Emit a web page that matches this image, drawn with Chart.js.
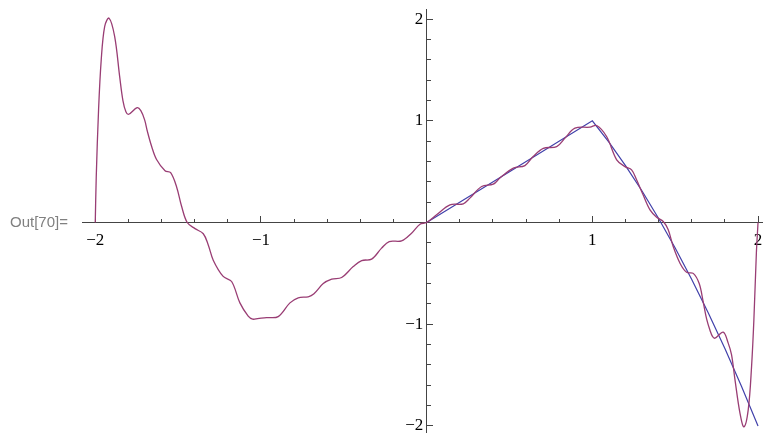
<!DOCTYPE html>
<html>
<head>
<meta charset="utf-8">
<script src="https://cdn.jsdelivr.net/npm/chart.js@4.4.1/dist/chart.umd.min.js"></script>
<style>
    html, body { margin: 0; padding: 0; background: #fff; }
    #wrap { position: relative; width: 763px; height: 434px; }
    #outLabel { position: absolute; left: 10px; top: 213px; font: 15px Arial, "Liberation Sans", sans-serif; color: #808080; }
</style>
</head>
<body>
<div id="wrap">
    <canvas id="plot" width="763" height="434"></canvas>
    <div id="outLabel">Out[70]=</div>
</div>
<script>
// Fourier partial sum (purple)
var seriesX = [-2.000, -1.994, -1.980, -1.964, -1.943, -1.917, -1.883, -1.853, -1.833, -1.815,
    -1.798, -1.747, -1.725, -1.702, -1.686, -1.660, -1.630, -1.579, -1.545, -1.509,
    -1.479, -1.445, -1.398, -1.348, -1.318, -1.288, -1.228, -1.177, -1.127, -1.077,
    -1.050, -1.020, -0.966, -0.896, -0.825, -0.775, -0.715, -0.680, -0.624, -0.573,
    -0.513, -0.443, -0.392, -0.332, -0.272, -0.226, -0.151, -0.091, -0.040, 0.000,
    0.060, 0.141, 0.221, 0.261, 0.332, 0.402, 0.442, 0.523, 0.593, 0.643,
    0.704, 0.785, 0.835, 0.895, 0.986, 1.026, 1.086, 1.147, 1.197, 1.237,
    1.267, 1.307, 1.348, 1.388, 1.428, 1.458, 1.488, 1.529, 1.569, 1.609,
    1.645, 1.669, 1.690, 1.710, 1.725, 1.740, 1.790, 1.820, 1.840, 1.861,
    1.891, 1.915, 1.941, 1.961, 1.975, 1.990, 2.000];
var seriesY = [0.00, 0.45, 1.11, 1.60, 1.93, 2.01, 1.83, 1.44, 1.20, 1.09,
    1.065, 1.13, 1.10, 1.01, 0.90, 0.75, 0.62, 0.51, 0.49, 0.35,
    0.16, 0.00, -0.06, -0.11, -0.22, -0.37, -0.53, -0.58, -0.79, -0.92,
    -0.95, -0.945, -0.935, -0.925, -0.79, -0.74, -0.73, -0.70, -0.60, -0.557,
    -0.54, -0.433, -0.374, -0.36, -0.252, -0.187, -0.18, -0.105, -0.016, 0.00,
    0.076, 0.174, 0.184, 0.24, 0.354, 0.377, 0.437, 0.535, 0.56, 0.649,
    0.73, 0.747, 0.83, 0.928, 0.938, 0.954, 0.846, 0.617, 0.55, 0.518,
    0.42, 0.27, 0.125, 0.053, 0.01, -0.072, -0.236, -0.40, -0.49, -0.50,
    -0.60, -0.78, -0.95, -1.06, -1.12, -1.137, -1.078, -1.186, -1.30, -1.547,
    -1.874, -2.01, -1.84, -1.416, -0.957, -0.30, 0.00];

// the function itself (blue), only drawn on [0, 2]
var exactX = [0, 0.5, 1, 1.1, 1.2, 1.3, 1.4, 1.5, 1.6, 1.7, 1.8, 1.9, 2];
var exactY = [0, 0.5, 1, 0.79, 0.56, 0.31, 0.04, -0.25, -0.56, -0.89, -1.24, -1.61, -2];

var xTickValues = [-2, -1, 0, 1, 2];
var xTickLabels = ['\u22122', '\u22121', '', '1', '2'];
var yTickValues = [-2, -1, 0, 1, 2];
var yTickLabels = ['\u22122', '\u22121', '', '1', '2'];

var xMin = -2.08, xMax = 2.03;
var yMin = -2.06, yMax = 2.1;

function toPoints(xs, ys) {
    return xs.map(function (x, i) { return { x: x, y: ys[i] }; });
}

var axisColor = '#444';
var labelFont = { family: '"Liberation Serif", "Times New Roman", serif', size: 17 };

// axes cross at the origin and take no room in the layout
function noHeight(scale) {
    scale.height = 0;
    scale.paddingLeft = scale.paddingRight = scale.paddingTop = scale.paddingBottom = 0;
}
function noWidth(scale) {
    scale.width = 0;
    scale.paddingLeft = scale.paddingRight = scale.paddingTop = scale.paddingBottom = 0;
}

function fixedTicks(values) {
    return function (scale) {
        scale.ticks = values.map(function (v) { return { value: v }; });
    };
}

var ctx = document.getElementById('plot').getContext('2d');
var chart = new Chart(ctx, {
    type: 'line',
    data: {
        datasets: [
            {
                label: 'partial sum',
                data: toPoints(seriesX, seriesY),
                borderColor: '#993d74',
                borderWidth: 1.3,
                pointRadius: 0,
                tension: 0.35,
                fill: false
            },
            {
                label: 'f(x)',
                data: toPoints(exactX, exactY),
                borderColor: '#4040aa',
                borderWidth: 1.2,
                pointRadius: 0,
                tension: 0,
                fill: false
            }
        ]
    },
    options: {
        responsive: false,
        animation: false,
        layout: { autoPadding: false, padding: { left: 82, right: 0, top: 9, bottom: 2 } },
        plugins: { legend: { display: false }, tooltip: { enabled: false } },
        scales: {
            x: {
                type: 'linear', min: xMin, max: xMax,
                position: { y: 0 },
                afterFit: noHeight,
                afterBuildTicks: fixedTicks(xTickValues),
                border: { display: true, color: axisColor, width: 1 },
                grid: { drawOnChartArea: false, drawTicks: true, tickLength: -7, color: axisColor, tickWidth: 1 },
                ticks: {
                    autoSkip: false, maxRotation: 0, padding: 15, color: '#000', font: labelFont,
                    callback: function (v) { return xTickLabels[xTickValues.indexOf(v)]; }
                }
            },
            xMinor: {
                type: 'linear', axis: 'x', min: xMin, max: xMax,
                position: { y: 0 },
                afterFit: noHeight,
                border: { display: false },
                grid: { drawOnChartArea: false, drawTicks: true, tickLength: -4, color: axisColor, tickWidth: 1 },
                ticks: { display: false, stepSize: 0.2, autoSkip: false, includeBounds: false }
            },
            y: {
                type: 'linear', min: yMin, max: yMax,
                position: { x: 0 },
                afterFit: noWidth,
                afterBuildTicks: fixedTicks(yTickValues),
                border: { display: true, color: axisColor, width: 1 },
                grid: { drawOnChartArea: false, drawTicks: true, tickLength: -7, color: axisColor, tickWidth: 1 },
                ticks: {
                    autoSkip: false, padding: 6, color: '#000', font: labelFont,
                    // centred y axis puts labels flush on the line, pad with a thin space
                    callback: function (v) {
                        var s = yTickLabels[yTickValues.indexOf(v)];
                        return s ? s + '\u2009' : s;
                    }
                }
            },
            yMinor: {
                type: 'linear', axis: 'y', min: yMin, max: yMax,
                position: { x: 0 },
                afterFit: noWidth,
                border: { display: false },
                grid: { drawOnChartArea: false, drawTicks: true, tickLength: -4, color: axisColor, tickWidth: 1 },
                ticks: { display: false, stepSize: 0.2, autoSkip: false, includeBounds: false }
            }
        }
    }
});
</script>
</body>
</html>
